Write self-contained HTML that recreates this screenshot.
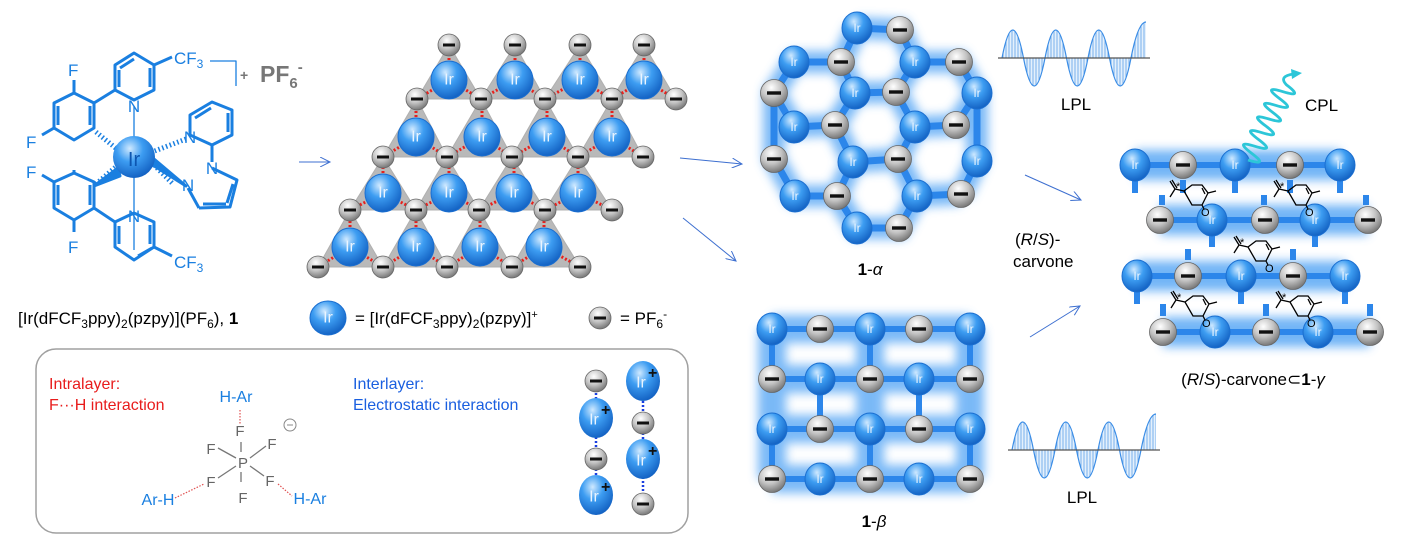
<!DOCTYPE html>
<html><head><meta charset="utf-8"><style>
html,body{margin:0;padding:0;background:#fff;}
svg{display:block;font-family:"Liberation Sans",sans-serif;}
.it{fill:#eaf5ff;font-size:14px;text-anchor:middle;dominant-baseline:central;}
.is{fill:#eaf5ff;font-size:12px;text-anchor:middle;dominant-baseline:central;}
.mol{stroke:#1a7fe0;stroke-width:3;fill:none;stroke-linejoin:round;}
.mt{fill:#1a7fe0;font-size:17px;}
.cv{stroke:#000;stroke-width:1.3;fill:none;}
</style></head><body>
<svg width="1405" height="542" viewBox="0 0 1405 542" xmlns="http://www.w3.org/2000/svg">
<defs>
<radialGradient id="gi" cx="0.4" cy="0.3" r="0.7"><stop offset="0" stop-color="#cfe9ff"/><stop offset="0.45" stop-color="#3d9df2"/><stop offset="1" stop-color="#1463c4"/></radialGradient>
<radialGradient id="ga" cx="0.4" cy="0.3" r="0.75"><stop offset="0" stop-color="#ffffff"/><stop offset="0.5" stop-color="#c4c4c4"/><stop offset="1" stop-color="#6e6e6e"/></radialGradient>
<filter id="glow" x="-20%" y="-20%" width="140%" height="140%"><feGaussianBlur stdDeviation="5"/></filter>
<pattern id="hatch" width="3" height="10" patternUnits="userSpaceOnUse"><rect width="3" height="10" fill="#e4f0fc"/><line x1="1" y1="0" x2="1" y2="10" stroke="#4a95e6" stroke-width="0.7"/></pattern>
<marker id="ar" markerWidth="12" markerHeight="10" refX="10" refY="5" orient="auto" markerUnits="userSpaceOnUse"><path d="M0,0 L10,5 L0,10" fill="none" stroke="#3d6fd0" stroke-width="1"/></marker>
<g id="i18"><ellipse rx="18" ry="19" fill="url(#gi)" stroke="#1a6ed0" stroke-width="1"/></g>
<g id="i15"><ellipse rx="15" ry="16" fill="url(#gi)" stroke="#1a6ed0" stroke-width="1"/></g>
<g id="a11"><circle r="11" fill="url(#ga)" stroke="#666" stroke-width="0.8"/><rect x="-6" y="-1.5" width="12" height="3" fill="#111"/></g>
<g id="a14"><circle r="13.5" fill="url(#ga)" stroke="#666" stroke-width="0.8"/><rect x="-7" y="-1.7" width="14" height="3.4" fill="#111"/></g>
<g id="cv"><path class="cv" d="M0,0 L8,-6 L18,-6 L24,2 L18,14 L8,14 Z M18,-3 L21,3 M24,2 L32,0 M0,0 L-9,-2 L-14,6 M-9,-2 L-14,-10 M-7,-3 L-12,-11 M18,14 L20,18"/></g>
</defs>

<!-- ===== Molecule ===== -->
<g class="mol">
<path d="M115,65 L134,53 L154,65 L154,90 L134,100 L115,90 Z M120,68 L134,59 M150,68 L150,87 M119,87 L119,70"/>
<path d="M154,65 L172,57"/>
<path d="M74,93 L94,103 L94,128 L74,140 L54,128 L54,103 Z M58,106 L58,125 M90,106 L90,125"/>
<path d="M94,103 L115,90"/>
<path d="M74,93 L74,80 M54,128 L42,135"/>
<path d="M190,115 L212,102 L232,110 L232,135 L212,145 L190,135 Z M228,113 L228,132 M195,118 L211,108"/>
<path d="M212,145 L212,162 M199,208 L188,188 M212,168 L237,180 L230,207 L199,208 M233,184 L227,203 M203,204 L226,204"/>
<path d="M74,173 L94,182 L94,208 L74,220 L54,208 L54,182 Z M58,185 L58,205 M90,185 L90,205"/>
<path d="M94,208 L115,222 M74,173 L74,170 M54,182 L42,175 M74,220 L74,232"/>
<path d="M115,222 L134,213 L154,222 L154,247 L134,260 L115,247 Z M119,226 L119,244 M150,225 L150,244 M138,256 L152,248"/>
<path d="M154,247 L172,256"/>
<path d="M134,106 L134,250 M210,61 L236,61 L236,86" stroke-width="1.3"/>
<path d="M96,132 L118,150 M186,139 L152,152 M96,184 L118,165 M172,183 L152,163" stroke-dasharray="1.5 2.5" stroke-width="5"/>
<path d="M94,186 L118,168 L120,176 Z M186,186 L151,164 L154,159 Z" fill="#1a7fe0"/>
</g>
<ellipse cx="134" cy="157" rx="21" ry="21" fill="url(#gi)"/>
<text x="134" y="166" class="mt" text-anchor="middle" style="font-size:20px;fill:#0d56b0">Ir</text>
<text x="134" y="112" class="mt" text-anchor="middle">N</text>
<text x="134" y="222" class="mt" text-anchor="middle">N</text>
<text x="190" y="143" class="mt" text-anchor="middle">N</text>
<text x="212" y="174" class="mt" text-anchor="middle">N</text>
<text x="188" y="191" class="mt" text-anchor="middle">N</text>
<text x="174" y="64" class="mt">CF<tspan font-size="12" dy="4">3</tspan></text>
<text x="174" y="268" class="mt">CF<tspan font-size="12" dy="4">3</tspan></text>
<text x="68" y="76" class="mt">F</text><text x="26" y="148" class="mt">F</text>
<text x="26" y="178" class="mt">F</text><text x="68" y="253" class="mt">F</text>
<text x="240" y="80" style="font-size:14px;fill:#777;font-weight:bold">+</text>
<text x="260" y="82" style="font-size:23px;fill:#777;font-weight:bold">PF<tspan font-size="15" dy="6">6</tspan><tspan font-size="15" dy="-16">-</tspan></text>

<!-- arrows -->
<g stroke="#3d6fd0" stroke-width="1" fill="none" marker-end="url(#ar)">
<line x1="299" y1="162" x2="330" y2="162"/>
<line x1="680" y1="158" x2="742" y2="164"/>
<line x1="683" y1="218" x2="736" y2="261"/>
<line x1="1025" y1="175" x2="1081" y2="200"/>
<line x1="1030" y1="337" x2="1080" y2="306"/>
</g>

<!-- ===== triangle lattice ===== -->
<g fill="#b9b9b9" stroke="#b0b0b0" stroke-width="1">
<polygon points="449,45 417,99 481,99"/><polygon points="515,45 481,99 545,99"/><polygon points="580,45 545,99 612,99"/><polygon points="644,45 612,99 676,99"/>
<polygon points="417,99 383,157 447,157"/><polygon points="481,99 447,157 512,157"/><polygon points="545,99 512,157 578,157"/><polygon points="612,99 578,157 643,157"/>
<polygon points="383,157 350,210 416,210"/><polygon points="447,157 416,210 479,210"/><polygon points="512,157 479,210 545,210"/><polygon points="578,157 545,210 612,210"/>
<polygon points="350,210 318,267 383,267"/><polygon points="416,210 383,267 447,267"/><polygon points="479,210 447,267 512,267"/><polygon points="545,210 512,267 580,267"/>
</g>
<g stroke="#e8201c" stroke-width="3" stroke-dasharray="2 2">
<path d="M449,80V45M449,80L417,99M449,80L481,99 M515,80V45M515,80L481,99M515,80L545,99 M580,80V45M580,80L545,99M580,80L612,99 M644,80V45M644,80L612,99M644,80L676,99"/>
<path d="M416,137V99M416,137L383,157M416,137L447,157 M482,137V99M482,137L447,157M482,137L512,157 M547,137V99M547,137L512,157M547,137L578,157 M612,137V99M612,137L578,157M612,137L643,157"/>
<path d="M383,193V157M383,193L350,210M383,193L416,210 M449,193V157M449,193L416,210M449,193L479,210 M514,193V157M514,193L479,210M514,193L545,210 M578,193V157M578,193L545,210M578,193L612,210"/>
<path d="M350,247V210M350,247L318,267M350,247L383,267 M416,247V210M416,247L383,267M416,247L447,267 M480,247V210M480,247L447,267M480,247L512,267 M544,247V210M544,247L512,267M544,247L580,267"/>
</g>
<use href="#i18" x="449" y="80"/><use href="#i18" x="515" y="80"/><use href="#i18" x="580" y="80"/><use href="#i18" x="644" y="80"/>
<use href="#i18" x="416" y="137"/><use href="#i18" x="482" y="137"/><use href="#i18" x="547" y="137"/><use href="#i18" x="612" y="137"/>
<use href="#i18" x="383" y="193"/><use href="#i18" x="449" y="193"/><use href="#i18" x="514" y="193"/><use href="#i18" x="578" y="193"/>
<use href="#i18" x="350" y="247"/><use href="#i18" x="416" y="247"/><use href="#i18" x="480" y="247"/><use href="#i18" x="544" y="247"/>
<g class="it" style="font-size:16px">
<text x="449" y="80">Ir</text><text x="515" y="80">Ir</text><text x="580" y="80">Ir</text><text x="644" y="80">Ir</text>
<text x="416" y="137">Ir</text><text x="482" y="137">Ir</text><text x="547" y="137">Ir</text><text x="612" y="137">Ir</text>
<text x="383" y="193">Ir</text><text x="449" y="193">Ir</text><text x="514" y="193">Ir</text><text x="578" y="193">Ir</text>
<text x="350" y="247">Ir</text><text x="416" y="247">Ir</text><text x="480" y="247">Ir</text><text x="544" y="247">Ir</text>
</g>
<use href="#a11" x="449" y="45"/><use href="#a11" x="515" y="45"/><use href="#a11" x="580" y="45"/><use href="#a11" x="644" y="45"/>
<use href="#a11" x="417" y="99"/><use href="#a11" x="481" y="99"/><use href="#a11" x="545" y="99"/><use href="#a11" x="612" y="99"/><use href="#a11" x="676" y="99"/>
<use href="#a11" x="383" y="157"/><use href="#a11" x="447" y="157"/><use href="#a11" x="512" y="157"/><use href="#a11" x="578" y="157"/><use href="#a11" x="643" y="157"/>
<use href="#a11" x="350" y="210"/><use href="#a11" x="416" y="210"/><use href="#a11" x="479" y="210"/><use href="#a11" x="545" y="210"/><use href="#a11" x="612" y="210"/>
<use href="#a11" x="318" y="267"/><use href="#a11" x="383" y="267"/><use href="#a11" x="447" y="267"/><use href="#a11" x="512" y="267"/><use href="#a11" x="580" y="267"/>

<!-- ===== 1-alpha ===== -->
<g filter="url(#glow)" opacity="0.8">
<path d="M857,28L900,30L915,62L959,62L977,93L977,161L961,194 M857,28L841,62L794,62L774,93L774,159L795,196L837,196L857,228L899,228L917,196L961,194 M841,62L855,93L896,92L915,62 M855,93L835,125L794,127L774,93 M896,92L915,127L956,125L977,93 M835,125L853,162L898,159L915,127 M853,162L837,196 M898,159L917,196" stroke="#5aa8f5" stroke-width="22" fill="none"/>
</g>
<path d="M857,28L900,30L915,62L959,62L977,93L977,161L961,194 M857,28L841,62L794,62L774,93L774,159L795,196L837,196L857,228L899,228L917,196L961,194 M841,62L855,93L896,92L915,62 M855,93L835,125L794,127L774,93 M896,92L915,127L956,125L977,93 M835,125L853,162L898,159L915,127 M853,162L837,196 M898,159L917,196" stroke="#2c86ea" stroke-width="7" fill="none"/>
<g>
<use href="#i15" x="857" y="28"/><use href="#i15" x="794" y="62"/><use href="#i15" x="915" y="62"/><use href="#i15" x="855" y="93"/><use href="#i15" x="977" y="93"/>
<use href="#i15" x="794" y="127"/><use href="#i15" x="915" y="127"/><use href="#i15" x="853" y="162"/><use href="#i15" x="977" y="161"/>
<use href="#i15" x="795" y="196"/><use href="#i15" x="917" y="196"/><use href="#i15" x="857" y="228"/>
<use href="#a14" x="900" y="30"/><use href="#a14" x="841" y="62"/><use href="#a14" x="959" y="62"/><use href="#a14" x="774" y="93"/><use href="#a14" x="896" y="92"/>
<use href="#a14" x="835" y="125"/><use href="#a14" x="956" y="125"/><use href="#a14" x="774" y="159"/><use href="#a14" x="898" y="159"/>
<use href="#a14" x="837" y="196"/><use href="#a14" x="961" y="194"/><use href="#a14" x="899" y="228"/>
</g>
<g class="is">
<text x="857" y="28">Ir</text><text x="794" y="62">Ir</text><text x="915" y="62">Ir</text><text x="855" y="93">Ir</text><text x="977" y="93">Ir</text>
<text x="794" y="127">Ir</text><text x="915" y="127">Ir</text><text x="853" y="162">Ir</text><text x="977" y="161">Ir</text>
<text x="795" y="196">Ir</text><text x="917" y="196">Ir</text><text x="857" y="228">Ir</text>
</g>
<text x="870" y="275" text-anchor="middle" style="font-size:17px"><tspan font-weight="bold">1</tspan>-<tspan font-style="italic">α</tspan></text>

<!-- ===== 1-beta ===== -->
<g filter="url(#glow)" opacity="0.8" stroke="#5aa8f5" stroke-width="28" fill="none">
<path d="M772,329H970M772,379H970M772,429H970M772,479H970M772,329V479M970,329V479M870,329V479"/>
</g>
<g stroke="#2c86ea" stroke-width="6" fill="none">
<path d="M772,329H970M772,379H970M772,429H970M772,479H970"/>
<path d="M772,329V379M870,329V379M970,329V379M820,379V429M919,379V429M772,429V479M870,429V479M970,429V479"/>
</g>
<use href="#i15" x="772" y="329"/><use href="#a14" x="820" y="329"/><use href="#i15" x="870" y="329"/><use href="#a14" x="919" y="329"/><use href="#i15" x="970" y="329"/>
<use href="#a14" x="772" y="379"/><use href="#i15" x="820" y="379"/><use href="#a14" x="870" y="379"/><use href="#i15" x="919" y="379"/><use href="#a14" x="970" y="379"/>
<use href="#i15" x="772" y="429"/><use href="#a14" x="820" y="429"/><use href="#i15" x="870" y="429"/><use href="#a14" x="919" y="429"/><use href="#i15" x="970" y="429"/>
<use href="#a14" x="772" y="479"/><use href="#i15" x="820" y="479"/><use href="#a14" x="870" y="479"/><use href="#i15" x="919" y="479"/><use href="#a14" x="970" y="479"/>
<g class="is">
<text x="772" y="329">Ir</text><text x="870" y="329">Ir</text><text x="970" y="329">Ir</text>
<text x="820" y="379">Ir</text><text x="919" y="379">Ir</text>
<text x="772" y="429">Ir</text><text x="870" y="429">Ir</text><text x="970" y="429">Ir</text>
<text x="820" y="479">Ir</text><text x="919" y="479">Ir</text>
</g>
<text x="874" y="527" text-anchor="middle" style="font-size:17px"><tspan font-weight="bold">1</tspan>-<tspan font-style="italic">β</tspan></text>

<!-- ===== waves ===== -->
<g stroke="none" fill="url(#hatch)">
<path d="M1002,58 Q1012.75,2 1023.5,58 Q1034.25,114 1045,58 Q1055.75,2 1066.5,58 Q1077.25,114 1088,58 Q1098.75,2 1109.5,58 Q1120.25,114 1131,58 Q1138,22 1146,22 V58 Z"/>
<path d="M1012,450 Q1022.75,394 1033.5,450 Q1044.25,506 1055,450 Q1065.75,394 1076.5,450 Q1087.25,506 1098,450 Q1108.75,394 1119.5,450 Q1130.25,506 1141,450 Q1148,414 1156,414 V450 Z"/>
</g>
<g stroke="#3b8de6" stroke-width="1.2" fill="none">
<path d="M1002,58 Q1012.75,2 1023.5,58 Q1034.25,114 1045,58 Q1055.75,2 1066.5,58 Q1077.25,114 1088,58 Q1098.75,2 1109.5,58 Q1120.25,114 1131,58 Q1138,22 1146,22"/>
<path d="M1012,450 Q1022.75,394 1033.5,450 Q1044.25,506 1055,450 Q1065.75,394 1076.5,450 Q1087.25,506 1098,450 Q1108.75,394 1119.5,450 Q1130.25,506 1141,450 Q1148,414 1156,414"/>
</g>
<line x1="998" y1="58" x2="1150" y2="58" stroke="#555" stroke-width="1.3"/>
<line x1="1008" y1="450" x2="1160" y2="450" stroke="#555" stroke-width="1.3"/>
<text x="1076" y="110" text-anchor="middle" style="font-size:17px">LPL</text>
<text x="1082" y="503" text-anchor="middle" style="font-size:17px">LPL</text>

<!-- ===== gamma ===== -->
<g filter="url(#glow)" opacity="0.85" stroke="#5aa8f5" stroke-width="30" fill="none">
<path d="M1135,165H1340M1160,220H1368M1137,276H1345M1163,332H1370"/>
</g>
<g stroke="#2c86ea" stroke-width="6" fill="none">
<path d="M1135,165H1340M1160,220H1368M1137,276H1345M1163,332H1370"/>
<path d="M1135,180V193M1183,180V193M1235,180V193M1290,180V193M1340,180V193 M1162,205V195M1264,205V195M1366,205V195 M1212,236V247M1315,236V247 M1188,260V249M1293,260V249 M1137,292V304M1241,292V304M1345,292V304 M1163,316V304M1266,316V304M1370,316V304"/>
</g>
<use href="#i15" x="1135" y="165"/><use href="#a14" x="1183" y="165"/><use href="#i15" x="1235" y="165"/><use href="#a14" x="1290" y="165"/><use href="#i15" x="1340" y="165"/>
<use href="#a14" x="1160" y="220"/><use href="#i15" x="1212" y="220"/><use href="#a14" x="1265" y="220"/><use href="#i15" x="1315" y="220"/><use href="#a14" x="1368" y="220"/>
<use href="#i15" x="1137" y="276"/><use href="#a14" x="1188" y="276"/><use href="#i15" x="1241" y="276"/><use href="#a14" x="1293" y="276"/><use href="#i15" x="1345" y="276"/>
<use href="#a14" x="1163" y="332"/><use href="#i15" x="1215" y="332"/><use href="#a14" x="1266" y="332"/><use href="#i15" x="1318" y="332"/><use href="#a14" x="1370" y="332"/>
<g class="is">
<text x="1135" y="165">Ir</text><text x="1235" y="165">Ir</text><text x="1340" y="165">Ir</text>
<text x="1212" y="220">Ir</text><text x="1315" y="220">Ir</text>
<text x="1137" y="276">Ir</text><text x="1241" y="276">Ir</text><text x="1345" y="276">Ir</text>
<text x="1215" y="332">Ir</text><text x="1318" y="332">Ir</text>
</g>
<use href="#cv" x="1184" y="191"/><use href="#cv" x="1288" y="191"/><use href="#cv" x="1248" y="247"/><use href="#cv" x="1185" y="302"/><use href="#cv" x="1290" y="302"/>
<g style="font-size:11px">
<text x="1176" y="190">*</text><text x="1280" y="190">*</text><text x="1240" y="246">*</text><text x="1177" y="301">*</text><text x="1282" y="301">*</text>
<text x="1201" y="216">O</text><text x="1305" y="216">O</text><text x="1265" y="272">O</text><text x="1202" y="327">O</text><text x="1307" y="327">O</text>
</g>

<!-- CPL helix -->
<path d="M1248,160 Q1269.4,166.6 1251.5,153.2 Q1233.7,139.7 1255,146.3 Q1276.4,152.9 1258.5,139.5 Q1240.7,126.1 1262,132.7 Q1283.4,139.2 1265.5,125.8 Q1247.7,112.4 1269,119 Q1290.4,125.6 1272.5,112.2 Q1254.7,98.8 1276,105.4 Q1297.4,111.9 1279.5,98.5 Q1261.7,85.1 1283,91.7 Q1304.4,98.3 1286.5,84.9 Q1278,76 1294,74" stroke="#2cc6d8" stroke-width="2.8" fill="none"/>
<path d="M1291,69 L1302,73 L1292,79 Z" fill="#2cc6d8"/>
<text x="1305" y="111" style="font-size:17px">CPL</text>

<text x="1015" y="245" style="font-size:17px">(<tspan font-style="italic">R</tspan>/<tspan font-style="italic">S</tspan>)-</text>
<text x="1013" y="267" style="font-size:17px">carvone</text>
<text x="1253" y="385" text-anchor="middle" style="font-size:17px">(<tspan font-style="italic">R</tspan>/<tspan font-style="italic">S</tspan>)-carvone⊂<tspan font-weight="bold">1</tspan>-<tspan font-style="italic">γ</tspan></text>

<!-- ===== legend line ===== -->
<text x="18" y="324" style="font-size:17px">[Ir(dFCF<tspan font-size="12" dy="4">3</tspan><tspan dy="-4">ppy)</tspan><tspan font-size="12" dy="4">2</tspan><tspan dy="-4">(pzpy)](PF</tspan><tspan font-size="12" dy="4">6</tspan><tspan dy="-4">),  </tspan><tspan font-weight="bold">1</tspan></text>
<ellipse cx="328" cy="318" rx="18" ry="17" fill="url(#gi)" stroke="#1a6ed0"/>
<text x="328" y="318" class="it" style="font-size:16px">Ir</text>
<text x="355" y="324" style="font-size:17px">= [Ir(dFCF<tspan font-size="12" dy="4">3</tspan><tspan dy="-4">ppy)</tspan><tspan font-size="12" dy="4">2</tspan><tspan dy="-4">(pzpy)]</tspan><tspan font-size="11" dy="-6">+</tspan></text>
<use href="#a11" x="600" y="318"/>
<text x="620" y="324" style="font-size:17px">= PF<tspan font-size="12" dy="4">6</tspan><tspan font-size="12" dy="-10">-</tspan></text>

<!-- ===== box ===== -->
<rect x="36" y="349" width="652" height="184" rx="20" fill="#fff" stroke="#a0a0a0" stroke-width="1.5"/>
<text x="49" y="389" style="font-size:16px;fill:#e81c1c">Intralayer:</text>
<text x="49" y="410" style="font-size:16px;fill:#e81c1c">F···H interaction</text>
<text x="353" y="389" style="font-size:16px;fill:#1a5fe0">Interlayer:</text>
<text x="353" y="410" style="font-size:16px;fill:#1a5fe0">Electrostatic interaction</text>
<g style="font-size:15px;fill:#666" text-anchor="middle">
<text x="243" y="468">P</text><text x="240" y="436">F</text><text x="211" y="454">F</text><text x="272" y="449">F</text>
<text x="211" y="487">F</text><text x="270" y="486">F</text><text x="243" y="503">F</text>
</g>
<g stroke="#777" stroke-width="1.3">
<path d="M241,442V452 M218,448L236,458 M266,446L250,458 M218,478L236,466 M264,476L250,466 M241,472V482"/>
</g>
<g stroke="#e05050" stroke-width="1.2" stroke-dasharray="1.5 1.5"><path d="M240,410V424 M175,498L204,484 M278,484L292,496"/></g>
<circle cx="290" cy="425" r="6" fill="none" stroke="#888"/><path d="M287,425H293" stroke="#888"/>
<g style="font-size:16px;fill:#1a7fe0" text-anchor="middle">
<text x="236" y="402">H-Ar</text><text x="158" y="505">Ar-H</text><text x="310" y="504">H-Ar</text>
</g>
<g stroke="#1a3fe0" stroke-width="2.5" stroke-dasharray="2 2"><path d="M596,381V495 M643,381V504"/></g>
<use href="#a11" x="596" y="381"/><use href="#a11" x="596" y="459"/><use href="#a11" x="643" y="423"/><use href="#a11" x="643" y="504"/>
<ellipse cx="596" cy="418" rx="17" ry="20" fill="url(#gi)"/><ellipse cx="596" cy="495" rx="17" ry="20" fill="url(#gi)"/>
<ellipse cx="643" cy="381" rx="17" ry="20" fill="url(#gi)"/><ellipse cx="643" cy="459" rx="17" ry="20" fill="url(#gi)"/>
<g class="it" style="font-size:16px">
<text x="594" y="420">Ir</text><text x="594" y="497">Ir</text><text x="641" y="383">Ir</text><text x="641" y="461">Ir</text>
</g>
<g style="font-size:16px;font-weight:bold;fill:#111">
<text x="601" y="415">+</text><text x="601" y="492">+</text><text x="648" y="378">+</text><text x="648" y="456">+</text>
</g>
</svg>
</body></html>
